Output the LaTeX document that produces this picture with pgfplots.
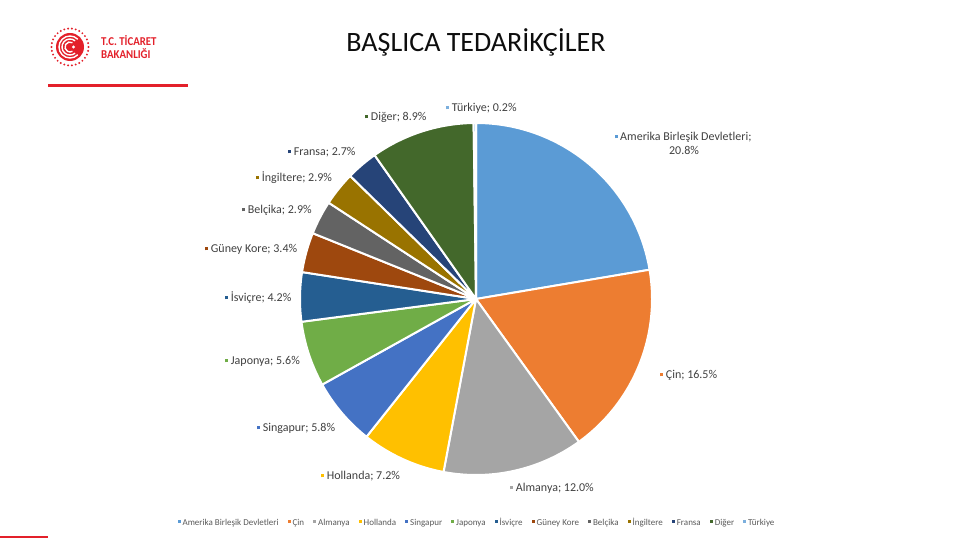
\documentclass[border=0pt]{standalone}
\usepackage{pgfplots}
\pgfplotsset{compat=1.18}
\usepackage{pgfplotstable}
\usepackage{fontspec}
\setmainfont{Carlito}
\definecolor{slice0}{HTML}{5B9BD5}
\definecolor{slice1}{HTML}{ED7D31}
\definecolor{slice2}{HTML}{A5A5A5}
\definecolor{slice3}{HTML}{FFC000}
\definecolor{slice4}{HTML}{4472C4}
\definecolor{slice5}{HTML}{70AD47}
\definecolor{slice6}{HTML}{255E91}
\definecolor{slice7}{HTML}{9E480E}
\definecolor{slice8}{HTML}{636363}
\definecolor{slice9}{HTML}{997300}
\definecolor{slice10}{HTML}{264478}
\definecolor{slice11}{HTML}{43682B}
\definecolor{slice12}{HTML}{7CAFDD}
\definecolor{tcred}{HTML}{E3202A}
\definecolor{lbl}{HTML}{404040}
\definecolor{lgd}{HTML}{595959}

\pgfplotstableread[col sep=comma]{
name,value
Amerika Birleşik Devletleri,20.8
Çin,16.5
Almanya,12.0
Hollanda,7.2
Singapur,5.8
Japonya,5.6
İsviçre,4.2
Güney Kore,3.4
Belçika,2.9
İngiltere,2.9
Fransa,2.7
Diğer,8.9
Türkiye,0.2
}\supplierdata

\newcommand{\sq}[1]{\textcolor{#1}{\rule[2.5bp]{3.2bp}{3.2bp}}\hspace{2.5bp}}

\begin{document}
\begin{tikzpicture}[x=1bp,y=1bp]
\path[use as bounding box] (0,0) rectangle (960,540);
% total of values
\pgfplotstablegetrowsof{\supplierdata}%
\pgfmathtruncatemacro{\lastrow}{\pgfplotsretval-1}%
\gdef\total{0}%
\foreach \i in {0,...,\lastrow}{%
  \pgfplotstablegetelem{\i}{value}\of\supplierdata
  \pgfmathsetmacro{\newtotal}{\total+\pgfplotsretval}%
  \global\let\total\newtotal
}%
\gdef\startang{90}%
\begin{axis}[
  at={(0,0)}, anchor=south west,
  width=960bp, height=540bp, scale only axis,
  xmin=0, xmax=960, ymin=0, ymax=540,
  hide axis, clip=false,
  legend style={at={(axis cs:477,17)}, anchor=center, draw=none, fill=none,
    font=\fontsize{9bp}{10bp}\selectfont\color{lgd},
    /tikz/every even column/.append style={column sep=7bp}},
  legend columns=-1,
  legend image code/.code={\fill[#1, draw=none] (0bp,-0.5bp) rectangle (3bp,2.5bp);},
]
\pgfplotsforeachungrouped \i in {0,...,12}{%
  \pgfplotstablegetelem{\i}{name}\of\supplierdata
  \let\curname\pgfplotsretval
  \pgfplotstablegetelem{\i}{value}\of\supplierdata
  \pgfmathsetmacro{\sweep}{360*\pgfplotsretval/\total}%
  \pgfmathsetmacro{\endang}{\startang-\sweep}%
  \edef\cmd{\noexpand\addplot[fill=slice\i, draw=white, line width=2bp, line join=round, domain=\endang:\startang, samples=80] ({476+176*cos(x)},{241+176*sin(x)}) -- (axis cs:476,241) -- cycle; \noexpand\addlegendentry{\curname}}%
  \cmd
  \global\let\startang\endang
}
\begin{scope}[every node/.style={inner sep=0pt, anchor=base west, text=lbl, font=\fontsize{12bp}{14bp}\selectfont}]
\node at (axis cs:446,428) {\sq{slice12}Türkiye; 0.2\%};
\node at (axis cs:365,419) {\sq{slice11}Diğer; 8.9\%};
\node[anchor=base] at (axis cs:683,399) {\sq{slice0}Amerika Birleşik Devletleri;};
\node[anchor=base] at (axis cs:684,385) {20.8\%};
\node at (axis cs:288,384) {\sq{slice10}Fransa; 2.7\%};
\node at (axis cs:256,358) {\sq{slice9}İngiltere; 2.9\%};
\node at (axis cs:242,326) {\sq{slice8}Belçika; 2.9\%};
\node at (axis cs:205,287) {\sq{slice7}Güney Kore; 3.4\%};
\node at (axis cs:225,238) {\sq{slice6}İsviçre; 4.2\%};
\node at (axis cs:225,175) {\sq{slice5}Japonya; 5.6\%};
\node at (axis cs:660,161) {\sq{slice1}Çin; 16.5\%};
\node at (axis cs:257,108) {\sq{slice4}Singapur; 5.8\%};
\node at (axis cs:321,60) {\sq{slice3}Hollanda; 7.2\%};
\node at (axis cs:510,48) {\sq{slice2}Almanya; 12.0\%};
\end{scope}
\end{axis}
% title
\node[anchor=base, inner sep=0pt, font=\fontsize{28bp}{32bp}\selectfont, text=black!95] at (476,488) {BAŞLICA TEDARİKÇİLER};
% logo
\begin{scope}[shift={(70,493)}]
  \foreach \a in {0,12,...,348} \fill[tcred] (\a:18.5) circle (1.1bp);
  \fill[tcred] (0,0) circle (14);
  \draw[white, line width=1.4bp] (45:11) arc (45:315:11);
  \draw[white, line width=1.4bp] (50:8) arc (50:310:8);
  \draw[white, line width=1.4bp] (60:5) arc (60:300:5);
  \fill[white] (3.5,0) circle (1.6);
\end{scope}
\node[anchor=base west, inner sep=0pt, text=tcred, font=\bfseries\fontsize{12bp}{13bp}\selectfont, xscale=0.9] at (101,494) {T.C. TİCARET};
\node[anchor=base west, inner sep=0pt, text=tcred, font=\bfseries\fontsize{12bp}{13bp}\selectfont, xscale=0.9] at (101,481) {BAKANLIĞI};
\fill[tcred] (48,452.5) rectangle (188,455.5);
\fill[tcred] (0,2) rectangle (48,4);
\end{tikzpicture}
\end{document}
